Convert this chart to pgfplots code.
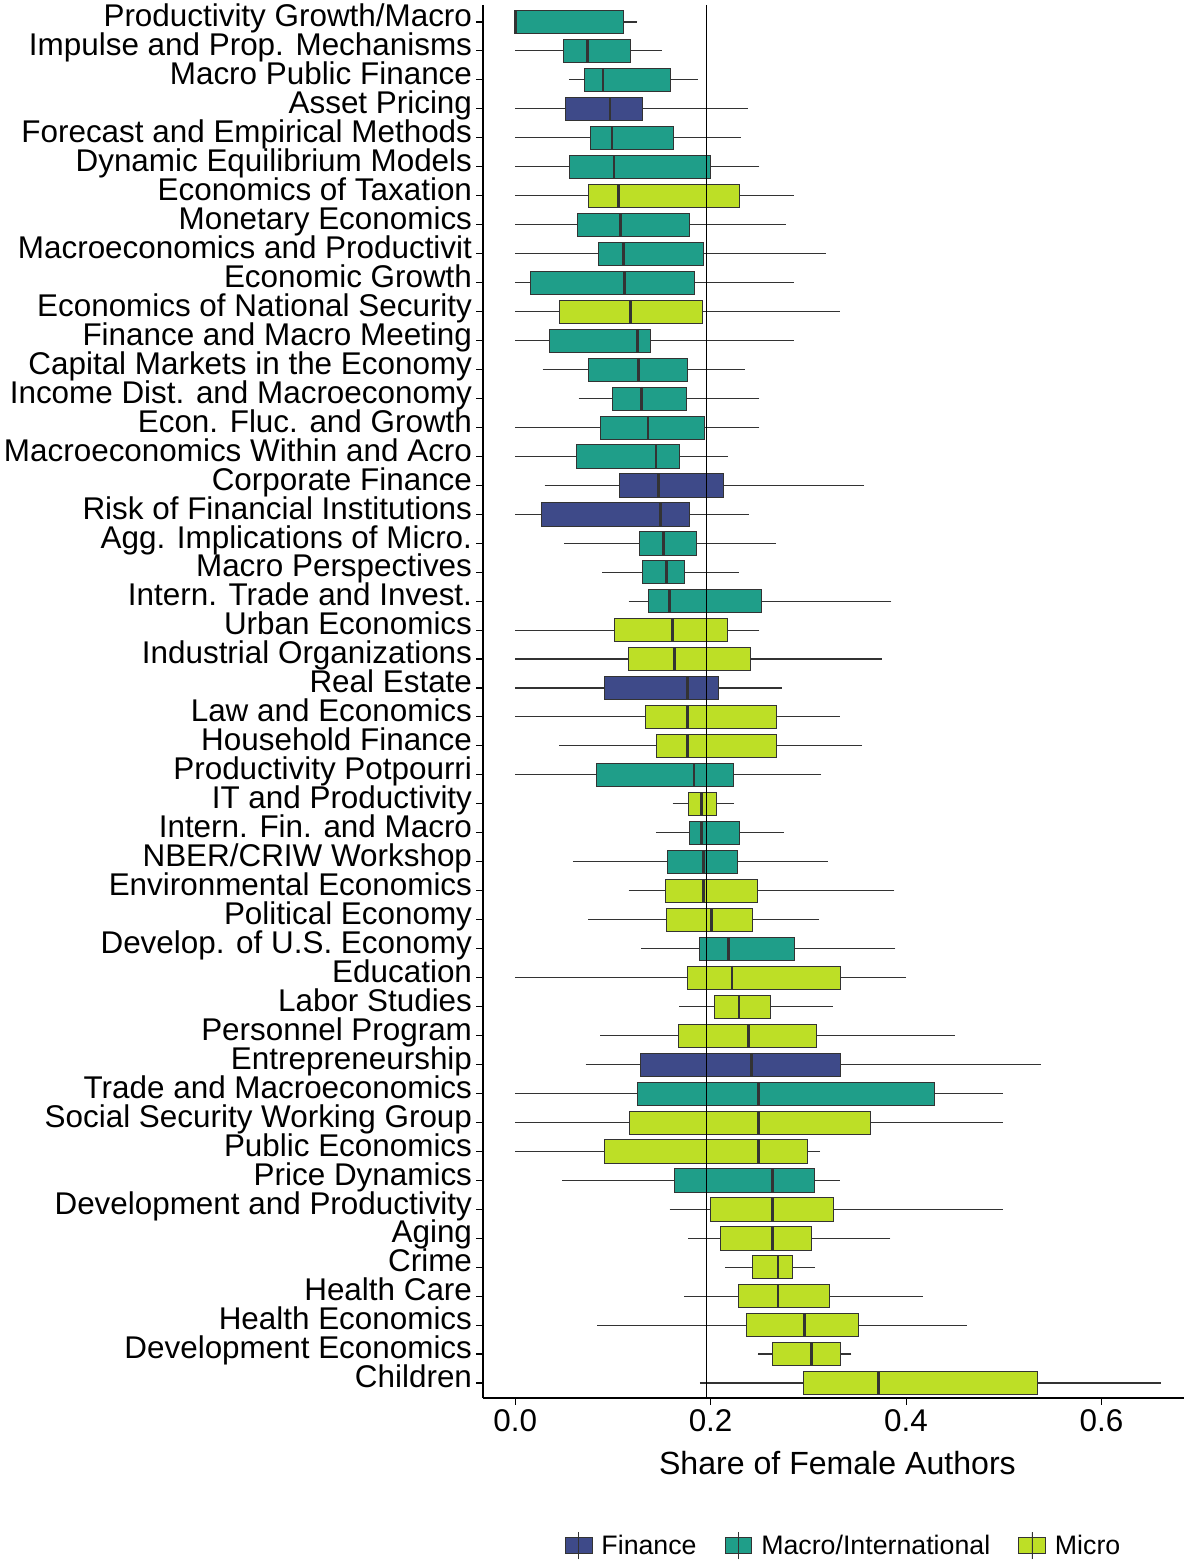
\documentclass[border=0pt]{standalone}
\usepackage{pgfplots}
\pgfplotsset{compat=1.18}
\usepgfplotslibrary{statistics}
\usepackage{fontspec}
\setmainfont{Liberation Sans}
\definecolor{fin}{HTML}{3E4A89}
\definecolor{mac}{HTML}{1F9E89}
\definecolor{mic}{HTML}{BDDF26}
\newcommand\bx[7]{\addplot[boxplot prepared={draw position=#1, lower whisker=#2, lower quartile=#3, median=#4, upper quartile=#5, upper whisker=#6}, draw=black!80, fill=#7, forget plot] coordinates {};}
\begin{document}
\begin{tikzpicture}
\begin{axis}[
 scale only axis, width=524pt, height=1042pt,
 xmin=-0.033, xmax=0.684, ymin=0.41, ymax=48.52, y dir=reverse,
 axis x line*=bottom, axis y line*=left, axis line style={line width=1pt},
 tick align=outside, major tick length=5pt, tick style={black, line width=0.8pt},
 xtick={0,0.2,0.4,0.6}, xticklabels={0.0,0.2,0.4,0.6},
 ytick={1,...,48},
 yticklabels={Productivity Growth/Macro,Impulse and Prop. Mechanisms,Macro Public Finance,Asset Pricing,Forecast and Empirical Methods,Dynamic Equilibrium Models,Economics of Taxation,Monetary Economics,Macroeconomics and Productivit,Economic Growth,Economics of National Security,Finance and Macro Meeting,Capital Markets in the Economy,Income Dist. and Macroeconomy,Econ. Fluc. and Growth,Macroeconomics Within and Acro,Corporate Finance,Risk of Financial Institutions,Agg. Implications of Micro.,Macro Perspectives,Intern. Trade and Invest.,Urban Economics,Industrial Organizations,Real Estate,Law and Economics,Household Finance,Productivity Potpourri,IT and Productivity,Intern. Fin. and Macro,NBER/CRIW Workshop,Environmental Economics,Political Economy,Develop. of U.S. Economy,Education,Labor Studies,Personnel Program,Entrepreneurship,Trade and Macroeconomics,Social Security Working Group,Public Economics,Price Dynamics,Development and Productivity,Aging,Crime,Health Care,Health Economics,Development Economics,Children},
 ticklabel style={font=\fontsize{23.5}{23.5}\selectfont},
 yticklabel style={anchor=base east, yshift=-0.36em, inner sep=3pt},
 /pgf/number format/assume math mode=true,
 xlabel={Share of Female Authors},
 xlabel style={font=\fontsize{24}{24}\selectfont, at={(axis description cs:0.506,-0.047)}, anchor=center},
 boxplot/draw direction=x, boxplot/whisker extend=0, boxplot/box extend=0.8,
 boxplot/every median/.style={line width=2pt, black!80},
 boxplot/every whisker/.style={line width=0.8pt, black!80},
 legend columns=3,
 legend style={draw=none, font=\fontsize{20}{20}\selectfont, at={(0.52,-0.106)}, anchor=center, /tikz/every even column/.append style={column sep=14pt}, nodes={inner xsep=7pt}},
 legend image code/.code={\draw[#1, draw=black!80] (0pt,-6pt) rectangle (20pt,6pt); \draw[black!80] (10pt,-10pt)--(10pt,10pt);},
]
\bx{1}{0}{0}{0}{0.111}{0.125}{mac}
\bx{2}{0}{0.049}{0.074}{0.118}{0.150}{mac}
\bx{3}{0.055}{0.071}{0.090}{0.159}{0.187}{mac}
\bx{4}{0}{0.051}{0.097}{0.130}{0.238}{fin}
\bx{5}{0}{0.077}{0.099}{0.162}{0.231}{mac}
\bx{6}{0}{0.055}{0.101}{0.200}{0.250}{mac}
\bx{7}{0}{0.075}{0.106}{0.229}{0.285}{mic}
\bx{8}{0}{0.064}{0.108}{0.178}{0.277}{mac}
\bx{9}{0}{0.085}{0.111}{0.192}{0.318}{mac}
\bx{10}{0}{0.015}{0.112}{0.183}{0.285}{mac}
\bx{11}{0}{0.045}{0.118}{0.191}{0.332}{mic}
\bx{12}{0}{0.035}{0.125}{0.138}{0.285}{mac}
\bx{13}{0.028}{0.075}{0.126}{0.176}{0.235}{mac}
\bx{14}{0.065}{0.099}{0.129}{0.175}{0.250}{mac}
\bx{15}{0}{0.087}{0.136}{0.194}{0.250}{mac}
\bx{16}{0}{0.063}{0.144}{0.168}{0.218}{mac}
\bx{17}{0.030}{0.107}{0.147}{0.213}{0.357}{fin}
\bx{18}{0}{0.027}{0.149}{0.178}{0.239}{fin}
\bx{19}{0.050}{0.127}{0.152}{0.185}{0.267}{mac}
\bx{20}{0.089}{0.130}{0.155}{0.173}{0.229}{mac}
\bx{21}{0.116}{0.136}{0.158}{0.252}{0.385}{mac}
\bx{22}{0}{0.101}{0.161}{0.217}{0.250}{mic}
\bx{23}{0}{0.116}{0.163}{0.241}{0.375}{mic}
\bx{24}{0}{0.091}{0.176}{0.208}{0.273}{fin}
\bx{25}{0}{0.133}{0.176}{0.267}{0.332}{mic}
\bx{26}{0.045}{0.144}{0.176}{0.267}{0.355}{mic}
\bx{27}{0}{0.083}{0.183}{0.223}{0.313}{mac}
\bx{28}{0.161}{0.177}{0.191}{0.206}{0.224}{mic}
\bx{29}{0.144}{0.178}{0.191}{0.229}{0.275}{mac}
\bx{30}{0.059}{0.156}{0.193}{0.227}{0.320}{mac}
\bx{31}{0.116}{0.154}{0.193}{0.248}{0.388}{mic}
\bx{32}{0.075}{0.155}{0.201}{0.243}{0.311}{mic}
\bx{33}{0.129}{0.188}{0.218}{0.286}{0.389}{mac}
\bx{34}{0}{0.176}{0.222}{0.333}{0.400}{mic}
\bx{35}{0.168}{0.204}{0.229}{0.261}{0.325}{mic}
\bx{36}{0.087}{0.167}{0.239}{0.308}{0.450}{mic}
\bx{37}{0.072}{0.128}{0.242}{0.333}{0.538}{fin}
\bx{38}{0}{0.125}{0.249}{0.429}{0.499}{mac}
\bx{39}{0}{0.117}{0.249}{0.363}{0.499}{mic}
\bx{40}{0}{0.091}{0.249}{0.299}{0.312}{mic}
\bx{41}{0.048}{0.163}{0.263}{0.306}{0.332}{mac}
\bx{42}{0.158}{0.200}{0.263}{0.326}{0.499}{mic}
\bx{43}{0.177}{0.210}{0.263}{0.303}{0.384}{mic}
\bx{44}{0.215}{0.243}{0.269}{0.284}{0.307}{mic}
\bx{45}{0.173}{0.228}{0.269}{0.321}{0.417}{mic}
\bx{46}{0.084}{0.236}{0.296}{0.351}{0.462}{mic}
\bx{47}{0.248}{0.263}{0.303}{0.333}{0.344}{mic}
\bx{48}{0.189}{0.295}{0.372}{0.534}{0.661}{mic}
\addplot[black, line width=0.8pt, forget plot] coordinates {(0.196,0.41) (0.196,48.52)};
\addlegendimage{fill=fin}\addlegendentry{Finance}
\addlegendimage{fill=mac}\addlegendentry{Macro/International}
\addlegendimage{fill=mic}\addlegendentry{Micro}
\end{axis}
\end{tikzpicture}
\end{document}
